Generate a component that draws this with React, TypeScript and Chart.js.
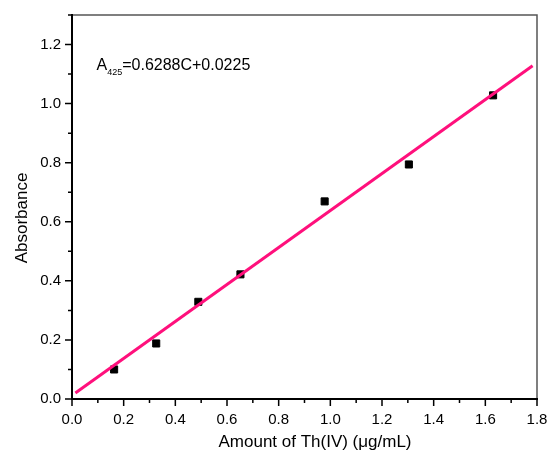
import React, { useEffect, useRef } from "react";
import { Chart, registerables } from "chart.js";

Chart.register(...registerables);

const concX = [0.163, 0.326, 0.489, 0.652, 0.978, 1.304, 1.63];
const absorbance = [0.1, 0.188, 0.329, 0.422, 0.669, 0.794, 1.028];
const fitX = [0.013, 1.783];
const fitY = [0.02, 1.128];
const xTicks = [0, 0.2, 0.4, 0.6, 0.8, 1.0, 1.2, 1.4, 1.6, 1.8];
const yTicks = [0, 0.2, 0.4, 0.6, 0.8, 1.0, 1.2];
const xTitle = "Amount of Th(IV) (μg/mL)";
const yTitle = "Absorbance";
const eqMain = "A";
const eqSub = "425";
const eqRest = "=0.6288C+0.0225";

const FONT = 'Arial, "Liberation Sans", sans-serif';

const framePlugin = {
  id: "framePlugin",
  afterDraw(chart: any) {
    const { ctx, chartArea } = chart;
    const { left, right, top, bottom } = chartArea;
    const xs = chart.scales.x;
    const ys = chart.scales.y;
    ctx.save();
    ctx.strokeStyle = "#555";
    ctx.lineWidth = 1.5;
    ctx.beginPath();
    ctx.moveTo(left, top);
    ctx.lineTo(right, top);
    ctx.lineTo(right, bottom);
    ctx.stroke();
    ctx.strokeStyle = "#000";
    ctx.lineWidth = 2;
    ctx.beginPath();
    ctx.moveTo(left, top - 1);
    ctx.lineTo(left, bottom);
    ctx.lineTo(right + 1, bottom);
    ctx.stroke();
    ctx.lineWidth = 1.5;
    ctx.beginPath();
    for (let i = 0; i <= 18; i++) {
      const px = xs.getPixelForValue(i / 10);
      const len = i % 2 === 0 ? 7 : 4;
      ctx.moveTo(px, bottom);
      ctx.lineTo(px, bottom + len);
    }
    for (let i = 0; i <= 13; i++) {
      const py = ys.getPixelForValue(i / 10);
      const len = i % 2 === 0 ? 7 : 4;
      ctx.moveTo(left, py);
      ctx.lineTo(left - len, py);
    }
    ctx.stroke();
    ctx.fillStyle = "#000";
    ctx.textBaseline = "alphabetic";
    ctx.textAlign = "left";
    let x0 = 96.5;
    const yb = 70;
    ctx.font = `16px ${FONT}`;
    ctx.fillText(eqMain, x0, yb);
    x0 += ctx.measureText(eqMain).width;
    ctx.font = `9px ${FONT}`;
    ctx.fillText(eqSub, x0, yb + 5);
    x0 += ctx.measureText(eqSub).width;
    ctx.font = `16px ${FONT}`;
    ctx.fillText(eqRest, x0, yb);
    ctx.font = `17px ${FONT}`;
    ctx.textAlign = "center";
    ctx.fillText(xTitle, 315, 447);
    ctx.save();
    ctx.translate(27, 218);
    ctx.rotate(-Math.PI / 2);
    ctx.fillText(yTitle, 0, 0);
    ctx.restore();
    ctx.restore();
  },
};

export default function App() {
  const ref = useRef<HTMLCanvasElement | null>(null);
  useEffect(() => {
    if (!ref.current) return;
    const chart = new Chart(ref.current, {
      type: "scatter",
      data: {
        datasets: [
          {
            type: "line",
            label: "Fit",
            data: fitX.map((x, i) => ({ x, y: fitY[i] })),
            borderColor: "#ff107c",
            borderWidth: 3,
            pointRadius: 0,
            fill: false,
            order: 0,
          },
          {
            label: "Data",
            data: concX.map((x, i) => ({ x, y: absorbance[i] })),
            pointStyle: "rect",
            pointRadius: 5,
            backgroundColor: "#000",
            borderColor: "#000",
            borderWidth: 1,
            order: 1,
          },
        ],
      },
      options: {
        responsive: false,
        animation: false,
        layout: { padding: { top: 15, right: 10, left: 0, bottom: 0 } },
        plugins: { legend: { display: false }, tooltip: { enabled: false } },
        scales: {
          x: {
            type: "linear",
            min: 0,
            max: 1.8,
            grid: { display: false, drawTicks: false },
            border: { display: false },
            afterFit: (s: any) => {
              s.height = 52;
              s.paddingLeft = 0;
              s.paddingRight = 0;
            },
            afterBuildTicks: (s: any) => {
              s.ticks = xTicks.map((v) => ({ value: v }));
            },
            ticks: {
              padding: 12,
              color: "#000",
              font: { family: FONT, size: 15 },
              callback: (v: any) => Number(v).toFixed(1),
            },
          },
          y: {
            type: "linear",
            min: 0,
            max: 1.3,
            grid: { display: false, drawTicks: false },
            border: { display: false },
            afterFit: (s: any) => {
              s.width = 72;
              s.paddingTop = 0;
              s.paddingBottom = 0;
            },
            afterBuildTicks: (s: any) => {
              s.ticks = yTicks.map((v) => ({ value: v }));
            },
            ticks: {
              padding: 11,
              color: "#000",
              font: { family: FONT, size: 15 },
              callback: (v: any) => Number(v).toFixed(1),
            },
          },
        },
      },
      plugins: [framePlugin],
    });
    return () => chart.destroy();
  }, []);
  return (
    <div style={{ position: "fixed", left: 0, top: 0, width: 547, height: 451, background: "#fff" }}>
      <canvas ref={ref} width={547} height={451} style={{ display: "block" }} />
    </div>
  );
}
